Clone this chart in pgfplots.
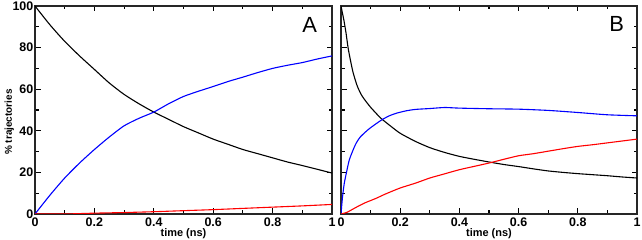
\documentclass[border=0pt]{standalone}
\usepackage{pgfplots}
\pgfplotsset{compat=1.18}
\usepackage{fontspec}
\setmainfont{Liberation Sans}
\begin{document}
\begin{tikzpicture}
\path[use as bounding box] (0,0) rectangle (642bp,240bp);
\begin{axis}[
    scale only axis, width=297bp, height=208bp,
    anchor=south west, at={(35bp,26bp)},
    xmin=0, xmax=1, ymin=0, ymax=100,
    xtick={0,0.2,0.4,0.6,0.8,1}, ytick={0,20,40,60,80,100},
    minor xtick={0.1,0.3,0.5,0.7,0.9}, minor ytick={10,30,50,70,90},
    tick align=inside,
    major tick length=5.5bp, minor tick length=3.5bp,
    tick style={black, line width=1.1bp},
    axis line style={line width=1.4bp, black!85},
    /pgf/number format/assume math mode=true,
    tick label style={font=\bfseries\fontsize{12.5}{14}\selectfont},
    xticklabel style={inner sep=1bp, yshift=-3bp},
    yticklabel style={inner sep=1.5bp},
    xlabel={time (ns)},
    xlabel style={at={(axis description cs:0.5,0)}, anchor=north, yshift=-14bp,
      font=\bfseries\fontsize{11}{12}\selectfont, inner sep=0pt},
    ylabel={\% trajectories},
    ylabel style={font=\bfseries\fontsize{10}{11}\selectfont, inner sep=0pt, xshift=-12bp, yshift=-3bp},
    every axis plot/.append style={line width=1.1bp, no marks, smooth, tension=0.4},
  ]
\addplot[black] coordinates {(0,100)(0.05,91)(0.1,83)(0.15,76)(0.2,69.5)(0.25,63)(0.3,57.5)(0.35,53)(0.4,49)(0.45,45.5)(0.5,42)(0.55,39)(0.6,36)(0.65,33.5)(0.7,31)(0.75,29)(0.8,27)(0.85,25)(0.9,23.3)(0.95,21.5)(1.0,19.7)};
\addplot[blue] coordinates {(0,0)(0.05,9)(0.1,17.3)(0.15,24.5)(0.2,31)(0.25,37)(0.3,42.4)(0.35,46)(0.4,49)(0.45,53)(0.5,56.5)(0.55,59)(0.6,61.3)(0.65,63.7)(0.7,65.8)(0.75,68)(0.8,70)(0.85,71.5)(0.9,72.8)(0.95,74.5)(1.0,76)};
\addplot[red] coordinates {(0,0)(0.1,0)(0.2,0.4)(0.3,0.7)(0.4,1.1)(0.5,1.6)(0.6,2.1)(0.7,2.7)(0.8,3.3)(0.9,3.9)(1.0,4.6)};
\node[anchor=center, font=\fontsize{22}{24}\selectfont] at (axis cs:0.925,91) {A};
\end{axis}
\begin{axis}[
    scale only axis, width=296bp, height=208bp,
    anchor=south west, at={(341bp,26bp)},
    xmin=0, xmax=1, ymin=0, ymax=100,
    xtick={0,0.2,0.4,0.6,0.8,1}, ytick={0,20,40,60,80,100}, yticklabels={},
    minor xtick={0.1,0.3,0.5,0.7,0.9}, minor ytick={10,30,50,70,90},
    tick align=inside,
    major tick length=5.5bp, minor tick length=3.5bp,
    tick style={black, line width=1.1bp},
    axis line style={line width=1.4bp, black!85},
    /pgf/number format/assume math mode=true,
    tick label style={font=\bfseries\fontsize{12.5}{14}\selectfont},
    xticklabel style={inner sep=1bp, yshift=-3bp},
    xlabel={time (ns)},
    xlabel style={at={(axis description cs:0.5,0)}, anchor=north, yshift=-14bp,
      font=\bfseries\fontsize{11}{12}\selectfont, inner sep=0pt},
    every axis plot/.append style={line width=1.1bp, no marks, smooth, tension=0.4},
  ]
\addplot[black] coordinates {(0,100)(0.005,96.5)(0.01,93)(0.017,87)(0.025,79)(0.04,68.5)(0.055,61.5)(0.07,57)(0.085,54)(0.1,51.3)(0.12,48.2)(0.135,46)(0.17,42)(0.2,38.8)(0.25,35)(0.3,31.9)(0.35,29.6)(0.4,27.7)(0.45,26.3)(0.5,25)(0.55,23.8)(0.6,22.8)(0.65,21.7)(0.7,20.7)(0.75,20)(0.8,19.4)(0.85,18.9)(0.9,18.4)(0.95,17.8)(1.0,17.3)};
\addplot[blue] coordinates {(0,0)(0.005,8)(0.011,14.7)(0.02,21)(0.028,26)(0.04,30.5)(0.051,34)(0.065,37)(0.084,39.6)(0.1,41.5)(0.135,45)(0.16,47)(0.186,48.4)(0.22,49.6)(0.253,50.3)(0.3,50.7)(0.35,51.2)(0.4,50.9)(0.5,50.6)(0.6,50.4)(0.7,49.8)(0.8,48.8)(0.9,47.7)(1.0,47.2)};
\addplot[red] coordinates {(0,0)(0.02,0.8)(0.051,3.2)(0.08,5.3)(0.118,7.5)(0.15,9.6)(0.2,12.5)(0.253,14.9)(0.3,17.3)(0.35,19.3)(0.4,21.3)(0.45,22.9)(0.5,24.5)(0.55,26.3)(0.6,28)(0.65,29)(0.7,30.2)(0.75,31.4)(0.8,32.5)(0.85,33.3)(0.9,34.2)(0.95,35.1)(1.0,36)};
\node[anchor=center, font=\fontsize{22}{24}\selectfont] at (axis cs:0.931,91.5) {B};
\end{axis}
\end{tikzpicture}
\end{document}
